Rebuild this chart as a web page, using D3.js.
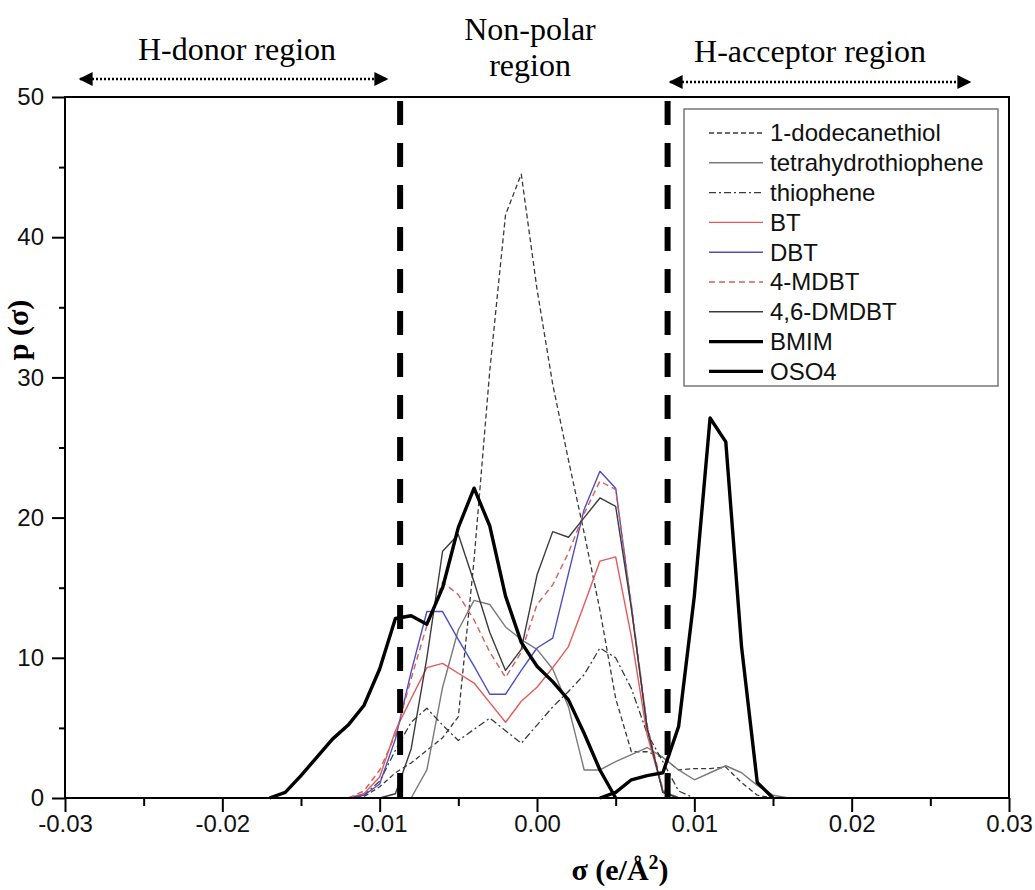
<!DOCTYPE html>
<html>
<head>
<meta charset="utf-8">
<script src="https://cdn.jsdelivr.net/npm/d3@7"></script>
<style>
  body { margin: 0; background: #fff; }
</style>
</head>
<body>
<script>
// sigma grid (e/A^2) shared by every profile
const sigma = [-0.017, -0.016, -0.015, -0.014, -0.013, -0.012, -0.011, -0.010, -0.009, -0.008,
               -0.007, -0.006, -0.005, -0.004, -0.003, -0.002, -0.001, 0.000, 0.001, 0.002,
               0.003, 0.004, 0.005, 0.006, 0.007, 0.008, 0.009, 0.010, 0.011, 0.012,
               0.013, 0.014, 0.015, 0.016];

const dodecanethiol = [0, 0, 0, 0, 0, 0, 0.1, 0.8, 1.8, 2.5, 3.4, 4.3, 5.8, 17.0, 30.5, 41.6, 44.5, 36.3,
                       29.5, 24.1, 18.9, 13.4, 7.1, 3.3, 3.3, 2.9, 2.0, 2.1, 2.1, 2.2, 1.1, 0.2, 0, 0];
const tetrahydrothiophene = [0, 0, 0, 0, 0, 0, 0, 0, 0, 0, 2.0, 7.9, 12.0, 14.1, 13.8, 12.2, 11.3, 10.6,
                             9.2, 6.5, 2.0, 2.0, 2.6, 3.1, 3.6, 2.9, 2.0, 1.3, 1.8, 2.3, 1.8, 0.9, 0.2, 0];
const thiophene = [0, 0, 0, 0, 0, 0, 0.2, 1.2, 3.4, 5.4, 6.4, 5.2, 4.1, 4.9, 5.7, 4.8, 3.9, 5.2,
                   6.5, 7.6, 8.8, 10.7, 10.0, 7.8, 4.6, 2.6, 0.5, 0, 0, 0, 0, 0, 0, 0];
const bt = [0, 0, 0, 0, 0, 0, 0.3, 1.5, 4.8, 7.1, 9.3, 9.6, 8.9, 8.2, 6.8, 5.4, 6.9, 7.9,
            9.3, 10.8, 13.8, 16.9, 17.2, 11.5, 4.5, 0.5, 0, 0, 0, 0, 0, 0, 0, 0];
const dbt = [0, 0, 0, 0, 0, 0, 0.2, 1.0, 4.2, 9.0, 13.3, 13.3, 11.3, 9.4, 7.4, 7.4, 9.1, 10.7,
             11.4, 16.0, 20.6, 23.3, 22.1, 13.6, 5.0, 0.4, 0, 0, 0, 0, 0, 0, 0, 0];
const mdbt = [0, 0, 0, 0, 0, 0, 0.5, 2.0, 4.5, 8.5, 12.3, 15.4, 14.5, 12.7, 10.4, 8.6, 10.4, 13.8,
              15.2, 17.5, 20.3, 22.6, 22.0, 13.8, 5.2, 0.6, 0, 0, 0, 0, 0, 0, 0, 0];
const dmdbt = [0, 0, 0, 0, 0, 0, 0, 0, 0.3, 3.5, 10.0, 17.6, 18.8, 15.4, 11.8, 9.1, 10.6, 15.9,
               19.0, 18.6, 20.0, 21.4, 20.8, 13.5, 5.0, 0.4, 0, 0, 0, 0, 0, 0, 0, 0];
const bmim = [0, 0.4, 1.6, 2.9, 4.2, 5.2, 6.6, 9.2, 12.8, 13.0, 12.4, 15.0, 19.3, 22.1, 19.4, 14.4, 11.1, 9.4,
              8.3, 7.0, 4.6, 2.0, 0, 0, 0, 0, 0, 0, 0, 0, 0, 0, 0, 0];
const oso4 = [0, 0, 0, 0, 0, 0, 0, 0, 0, 0, 0, 0, 0, 0, 0, 0, 0, 0,
              0, 0, 0, 0, 0.4, 1.3, 1.6, 1.8, 5.1, 14.4, 27.1, 25.4, 10.8, 1.1, 0, 0];

const seriesNames = ["1-dodecanethiol", "tetrahydrothiophene", "thiophene", "BT", "DBT",
                     "4-MDBT", "4,6-DMDBT", "BMIM", "OSO4"];
const seriesValues = [dodecanethiol, tetrahydrothiophene, thiophene, bt, dbt, mdbt, dmdbt, bmim, oso4];

const xTicks = [-0.03, -0.02, -0.01, 0.00, 0.01, 0.02, 0.03];
const xMinor = [-0.025, -0.015, -0.005, 0.005, 0.015, 0.025];
const yTicks = [0, 10, 20, 30, 40, 50];
const yMinor = [5, 15, 25, 35, 45];
const boundaries = [-0.0087, 0.0083];   // dashed region limits

// line styles, same order as seriesNames
const styles = [
  { color: "#3a3a3a", width: 1.3, dash: "5,3" },
  { color: "#7a7a7a", width: 1.4, dash: null },
  { color: "#3a3a3a", width: 1.3, dash: "7,3,2,3" },
  { color: "#e25a5a", width: 1.4, dash: null },
  { color: "#4d4dc4", width: 1.4, dash: null },
  { color: "#d45f5f", width: 1.4, dash: "6,4" },
  { color: "#3c3c3c", width: 1.4, dash: null },
  { color: "#000", width: 3.4, dash: null },
  { color: "#000", width: 3.4, dash: null }
];

const w = 1035, h = 890;
const margin = { top: 97, right: 26, bottom: 92, left: 65 };
const sans = "'Liberation Sans', Arial, sans-serif";
const serif = "'Liberation Serif', 'Times New Roman', serif";

const svg = d3.select("body").append("svg")
  .attr("width", w)
  .attr("height", h);

const xScale = d3.scaleLinear().domain([-0.03, 0.03]).range([margin.left, w - margin.right]);
const yScale = d3.scaleLinear().domain([0, 50]).range([h - margin.bottom, margin.top]);

// profiles (only the non-zero stretch plus one zero on each side)
const line = d3.line()
  .x(d => xScale(d[0]))
  .y(d => yScale(d[1]));

seriesValues.forEach((vals, i) => {
  let first = vals.findIndex(v => v > 0);
  let last = vals.length - 1 - [...vals].reverse().findIndex(v => v > 0);
  first = Math.max(0, first - 1);
  last = Math.min(vals.length - 1, last + 1);
  const pts = [];
  for (let k = first; k <= last; k++) pts.push([sigma[k], vals[k]]);
  svg.append("path")
    .datum(pts)
    .attr("d", line)
    .attr("fill", "none")
    .attr("stroke", styles[i].color)
    .attr("stroke-width", styles[i].width)
    .attr("stroke-dasharray", styles[i].dash)
    .attr("stroke-linejoin", "round");
});

// region boundaries
svg.selectAll("line.bound").data(boundaries).enter().append("line")
  .attr("class", "bound")
  .attr("x1", d => xScale(d)).attr("x2", d => xScale(d))
  .attr("y1", yScale(50)).attr("y2", yScale(0))
  .attr("stroke", "#000")
  .attr("stroke-width", 6)
  .attr("stroke-dasharray", "24,18")
  .attr("stroke-dashoffset", 38);

// frame
svg.append("rect")
  .attr("x", margin.left).attr("y", margin.top)
  .attr("width", w - margin.left - margin.right)
  .attr("height", h - margin.top - margin.bottom)
  .attr("fill", "none")
  .attr("stroke", "#000")
  .attr("stroke-width", 2);

// axes
svg.append("g")
  .attr("transform", "translate(0," + (h - margin.bottom) + ")")
  .call(d3.axisBottom(xScale).tickValues(xTicks).tickSize(14).tickPadding(3).tickFormat(d => d.toFixed(2)));
svg.append("g")
  .attr("transform", "translate(0," + (h - margin.bottom) + ")")
  .call(d3.axisBottom(xScale).tickValues(xMinor).tickSize(8).tickFormat(""));
svg.append("g")
  .attr("transform", "translate(" + margin.left + ",0)")
  .call(d3.axisLeft(yScale).tickValues(yTicks).tickSize(13).tickPadding(8));
svg.append("g")
  .attr("transform", "translate(" + margin.left + ",0)")
  .call(d3.axisLeft(yScale).tickValues(yMinor).tickSize(6).tickFormat(""));

svg.selectAll(".domain").remove();
svg.selectAll(".tick line").attr("stroke", "#000").attr("stroke-width", 2);
svg.selectAll(".tick text").attr("font-family", sans).attr("font-size", 24).attr("fill", "#111");

// axis titles
svg.append("text")
  .attr("transform", "translate(28,330) rotate(-90)")
  .attr("text-anchor", "middle")
  .attr("font-family", serif).attr("font-weight", "bold").attr("font-size", 30)
  .text("p (σ)");

const xt = svg.append("text")
  .attr("x", 620).attr("y", 880)
  .attr("text-anchor", "middle")
  .attr("font-family", serif).attr("font-weight", "bold").attr("font-size", 30);
xt.append("tspan").text("σ (e/Å");
xt.append("tspan").attr("baseline-shift", "super").attr("font-size", 20).text("2");
xt.append("tspan").text(")");

// region annotations
const defs = svg.append("defs");
defs.append("marker")
  .attr("id", "head")
  .attr("viewBox", "0 0 10 10")
  .attr("refX", 9).attr("refY", 5)
  .attr("markerWidth", 16).attr("markerHeight", 14)
  .attr("markerUnits", "userSpaceOnUse")
  .attr("orient", "auto-start-reverse")
  .append("path").attr("d", "M0,0 L10,5 L0,10 Z").attr("fill", "#000");

const regions = [
  { lines: ["H-donor region"], cx: 237, y: 60, arrow: [80, 387, 79] },
  { lines: ["Non-polar", "region"], cx: 530, y: 40, arrow: null },
  { lines: ["H-acceptor region"], cx: 810, y: 62, arrow: [670, 970, 82] }
];
regions.forEach(r => {
  r.lines.forEach((t, j) => {
    svg.append("text")
      .attr("x", r.cx).attr("y", r.y + j * 36)
      .attr("text-anchor", "middle")
      .attr("font-family", serif).attr("font-size", 32)
      .text(t);
  });
  if (r.arrow) {
    svg.append("line")
      .attr("x1", r.arrow[0]).attr("x2", r.arrow[1])
      .attr("y1", r.arrow[2]).attr("y2", r.arrow[2])
      .attr("stroke", "#000").attr("stroke-width", 2.5)
      .attr("stroke-dasharray", "2,2")
      .attr("marker-start", "url(#head)")
      .attr("marker-end", "url(#head)");
  }
});

// legend
const legend = svg.append("g");
legend.append("rect")
  .attr("x", 684).attr("y", 109).attr("width", 314).attr("height", 277)
  .attr("fill", "#fff").attr("stroke", "#777").attr("stroke-width", 1.5);
seriesNames.forEach((name, i) => {
  const yy = 133 + i * 29.8;
  legend.append("line")
    .attr("x1", 709).attr("x2", 763).attr("y1", yy).attr("y2", yy)
    .attr("stroke", styles[i].color)
    .attr("stroke-width", styles[i].width)
    .attr("stroke-dasharray", styles[i].dash);
  legend.append("text")
    .attr("x", 770).attr("y", yy).attr("dy", "0.35em")
    .attr("font-family", sans).attr("font-size", 24).attr("fill", "#111")
    .text(name);
});
</script>
</body>
</html>
